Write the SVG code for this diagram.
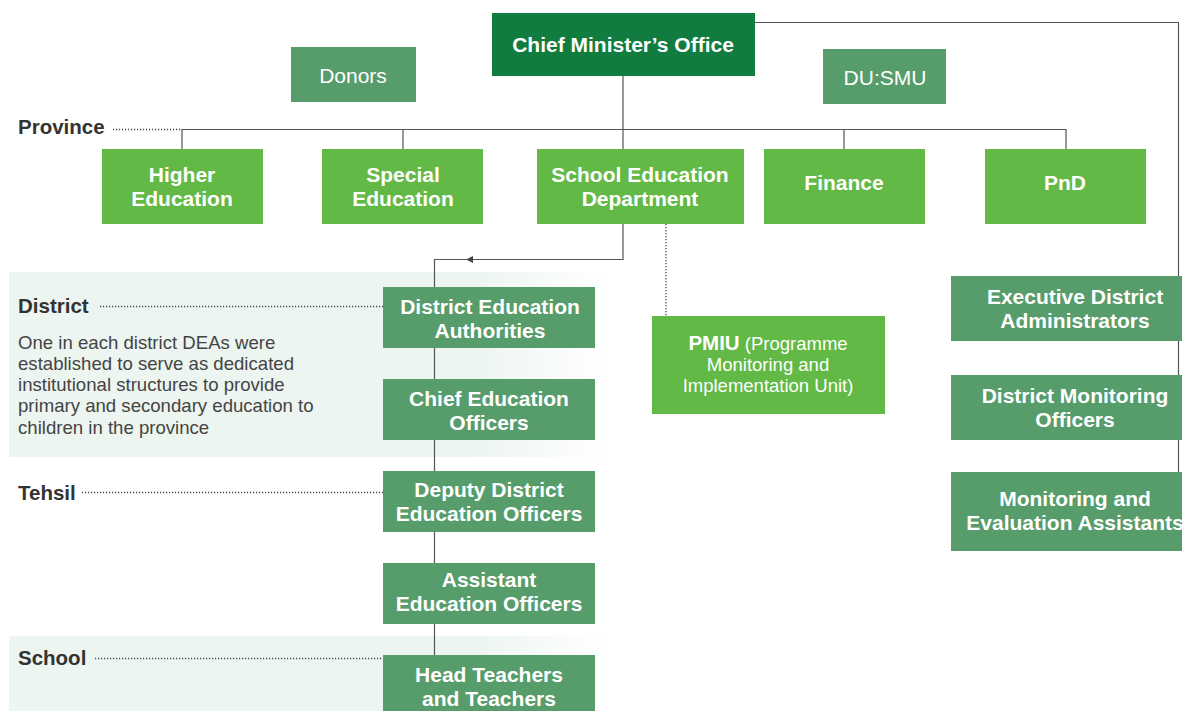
<svg xmlns="http://www.w3.org/2000/svg" width="1182" height="711" viewBox="0 0 1182 711">
<defs>
<linearGradient id="band" gradientUnits="userSpaceOnUse" x1="9" y1="0" x2="605" y2="0">
<stop offset="0" stop-color="#EDF5F0"/>
<stop offset="0.78" stop-color="#EDF5F0"/>
<stop offset="1" stop-color="#EDF5F0" stop-opacity="0"/>
</linearGradient>
<marker id="arr" markerWidth="8" markerHeight="8" refX="7" refY="4" orient="auto" markerUnits="userSpaceOnUse">
<path d="M0,0.5 L7,4 L0,7.5 Z" fill="#444"/>
</marker>
<style>
.dark{fill:#107C40}
.mid{fill:#579C6B}
.light{fill:#62B946}
.t{font-family:"Liberation Sans",Arial,sans-serif;fill:#fff;text-anchor:middle;font-size:21px;font-weight:bold}
.tr{font-family:"Liberation Sans",Arial,sans-serif;fill:#fff;text-anchor:middle;font-size:21px}
.lab{font-family:"Liberation Sans",Arial,sans-serif;fill:#333;font-size:20.5px;font-weight:bold}
.para{font-family:"Liberation Sans",Arial,sans-serif;fill:#444;font-size:18.6px}
.ln{fill:none;stroke:#555;stroke-width:1.2}
.dot{fill:none;stroke:#444;stroke-width:1.3;stroke-dasharray:1.2 1.8}
</style>
</defs>
<rect x="9" y="272" width="596" height="185" fill="url(#band)"/>
<rect x="9" y="636" width="596" height="75" fill="url(#band)"/>

<g id="levels">
<text class="lab" x="18" y="134">Province</text>
<text class="lab" x="18" y="313">District</text>
<text class="lab" x="18" y="500">Tehsil</text>
<text class="lab" x="18" y="665">School</text>
<text class="para" x="18" y="349">One in each district DEAs were</text>
<text class="para" x="18" y="370">established to serve as dedicated</text>
<text class="para" x="18" y="391">institutional structures to provide</text>
<text class="para" x="18" y="412">primary and secondary education to</text>
<text class="para" x="18" y="434">children in the province</text>
</g>

<g id="connectors">
<path class="dot" d="M113,129.5 H182"/>
<path class="dot" d="M100,306.5 H383"/>
<path class="dot" d="M82,492.5 H383"/>
<path class="dot" d="M95,658.5 H383"/>
<path class="ln" d="M623,76 V149"/>
<path class="ln" d="M182,149 V129.5 H1066 V149"/>
<path class="ln" d="M403,129.5 V149"/>
<path class="ln" d="M844,129.5 V149"/>
<path class="ln" d="M755,22.5 H1178.5 V472"/>
<path class="ln" d="M623,224 V259.5 H466" marker-end="url(#arr)"/>
<path class="ln" d="M468,259.5 H434.5 V655"/>
<path class="dot" d="M666,224 V316"/>
</g>

<g id="cmo"><rect class="dark" x="492" y="13" width="263" height="63"/><text class="t" x="623" y="52">Chief Minister’s Office</text></g>
<g id="donors"><rect class="mid" x="291" y="47" width="125" height="55"/><text class="tr" x="353" y="83">Donors</text></g>
<g id="dusmu"><rect class="mid" x="823" y="49" width="123" height="55"/><text class="tr" x="885" y="85">DU:SMU</text></g>

<g id="higher"><rect class="light" x="102" y="149" width="161" height="75"/><text class="t" x="182" y="182">Higher</text><text class="t" x="182" y="206">Education</text></g>
<g id="special"><rect class="light" x="322" y="149" width="161" height="75"/><text class="t" x="403" y="182">Special</text><text class="t" x="403" y="206">Education</text></g>
<g id="sed"><rect class="light" x="537" y="149" width="207" height="75"/><text class="t" x="640" y="182">School Education</text><text class="t" x="640" y="206">Department</text></g>
<g id="finance"><rect class="light" x="764" y="149" width="161" height="75"/><text class="t" x="844" y="190">Finance</text></g>
<g id="pnd"><rect class="light" x="985" y="149" width="161" height="75"/><text class="t" x="1065" y="190">PnD</text></g>

<g id="dea"><rect class="mid" x="383" y="287" width="212" height="61"/><text class="t" x="490" y="314">District Education</text><text class="t" x="490" y="338">Authorities</text></g>
<g id="ceo"><rect class="mid" x="383" y="379" width="212" height="61"/><text class="t" x="489" y="406">Chief Education</text><text class="t" x="489" y="430">Officers</text></g>
<g id="ddeo"><rect class="mid" x="383" y="471" width="212" height="61"/><text class="t" x="489" y="497">Deputy District</text><text class="t" x="489" y="521">Education Officers</text></g>
<g id="aeo"><rect class="mid" x="383" y="563" width="212" height="61"/><text class="t" x="489" y="587">Assistant</text><text class="t" x="489" y="611">Education Officers</text></g>
<g id="ht"><rect class="mid" x="383" y="655" width="212" height="61"/><text class="t" x="489" y="682">Head Teachers</text><text class="t" x="489" y="706">and Teachers</text></g>

<g id="pmiu"><rect class="light" x="652" y="316" width="233" height="98"/>
<text class="tr" x="768" y="350" style="font-size:18.5px"><tspan font-weight="bold" style="font-size:20.5px">PMIU</tspan> (Programme</text>
<text class="tr" x="768" y="371" style="font-size:18.5px">Monitoring and</text>
<text class="tr" x="768" y="392" style="font-size:18.5px">Implementation Unit)</text>
</g>

<g id="eda"><rect class="mid" x="951" y="276" width="250" height="65"/><text class="t" x="1075" y="304">Executive District</text><text class="t" x="1075" y="328">Administrators</text></g>
<g id="dmo"><rect class="mid" x="951" y="375" width="250" height="65"/><text class="t" x="1075" y="403">District Monitoring</text><text class="t" x="1075" y="427">Officers</text></g>
<g id="mea"><rect class="mid" x="951" y="472" width="250" height="79"/><text class="t" x="1075" y="506">Monitoring and</text><text class="t" x="1075" y="530">Evaluation Assistants</text></g>
</svg>
